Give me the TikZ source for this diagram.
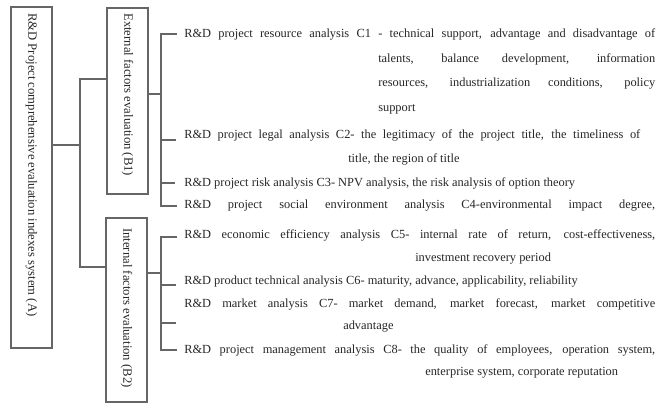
\documentclass[tikz,border=0pt]{standalone}
\usepackage{fontspec}
\setmainfont{Liberation Serif}
\usetikzlibrary{calc}
\begin{document}
\begin{tikzpicture}[x=0.75pt,y=-0.75pt,
  box/.style={draw=black!60, line width=0.8pt, inner sep=0pt},
  vtext/.style={rotate=-90, anchor=west, inner sep=0pt, font=\fontsize{9.5}{11}\selectfont, text=black!85},
  ln/.style={anchor=west, inner sep=0pt, font=\fontsize{9.3}{11}\selectfont, text=black!85},
  conn/.style={draw=black!60, line width=0.8pt}]
\useasboundingbox (0,0) rectangle (659,405);
% boxes
\node[box, minimum width=30.75pt, minimum height=255.75pt] (A) at (31.5,177.5) {};
\node[box, minimum width=30.75pt, minimum height=139.5pt] (B1) at (127.5,101) {};
\node[box, minimum width=30.75pt, minimum height=138pt] (B2) at (126.5,310) {};
\node[vtext] (tA) at (31.5,13) {R\&D Project comprehensive evaluation indexes system (A)};
\node[vtext] (tB1) at (127.5,13) {External factors evaluation (B1)};
\node[vtext] (tB2) at (126.5,228) {Internal factors evaluation (B2)};
% text lines
\node[ln] (c1) at (184,34) {\makebox[353.25pt][s]{R\&D project resource analysis C1 - technical support, advantage and disadvantage of}};
\node[ln] (c1b) at (378,59) {\makebox[207.75pt][s]{talents, balance development, information}};
\node[ln] (c1c) at (378,84) {\makebox[207.75pt][s]{resources, industrialization conditions, policy}};
\node[ln] (c1d) at (378,109) {support};
\node[ln] (c2) at (184,135) {\makebox[342pt][s]{R\&D project legal analysis C2- the legitimacy of the project title, the timeliness of}};
\node[ln] (c2b) at (348,159) {title, the region of title};
\node[ln] (c3) at (184,183) {R\&D project risk analysis C3- NPV analysis, the risk analysis of option theory};
\node[ln] (c4) at (184,206) {\makebox[353.25pt][s]{R\&D project social environment analysis C4-environmental impact degree,}};
\node[ln] (c5) at (184,235) {\makebox[353.25pt][s]{R\&D economic efficiency analysis C5- internal rate of return, cost-effectiveness,}};
\node[ln] (c5b) at (415,259) {investment recovery period};
\node[ln] (c6) at (184,282) {R\&D product technical analysis C6- maturity, advance, applicability, reliability};
\node[ln] (c7) at (184,304) {\makebox[353.25pt][s]{R\&D market analysis C7- market demand, market forecast, market competitive}};
\node[ln] (c7b) at (343,327) {advantage};
\node[ln] (c8) at (184,350) {\makebox[353.25pt][s]{R\&D project management analysis C8- the quality of employees, operation system,}};
\node[ln] (c8b) at (425,373) {enterprise system, corporate reputation};
% A to B connectors
\coordinate (ja) at (80,145);
\coordinate (jb1) at (80,79);
\coordinate (jb2) at (80,267);
\draw[conn] (A.east |- ja) -- (ja);
\draw[conn] (B1.west |- jb1) -- (jb1) -- (jb2) -- (B2.west |- jb2);
% B1 bracket
\coordinate (k1) at (161,94);
\draw[conn] (B1.east |- k1) -- (k1);
\draw[conn] ($(c1.west)+(-7,0)$) -- (k1 |- c1.west) -- (k1 |- c4.west) -- ($(c4.west)+(-7,0)$);
\draw[conn] ($(k1 |- c2.west)+(0,5)$) -- ($(c2.west)+(-8,5)$);
\draw[conn] (k1 |- c3.west) -- ($(c3.west)+(-9,0)$);
% B2 bracket
\coordinate (k2) at (161,273);
\draw[conn] (B2.east |- k2) -- (k2);
\draw[conn] ($(c5.west)+(-7,2)$) -- ($(k2 |- c5.west)+(0,2)$) -- (k2 |- c8.west) -- ($(c8.west)+(-7,0)$);
\draw[conn] ($(k2 |- c6.west)+(0,3)$) -- ($(c6.west)+(-8,3)$);
\draw[conn] ($(k2 |- c7b.west)+(0,-4)$) -- ($(c6.west |- c7b.west)+(-8,-4)$);
\end{tikzpicture}
\end{document}
